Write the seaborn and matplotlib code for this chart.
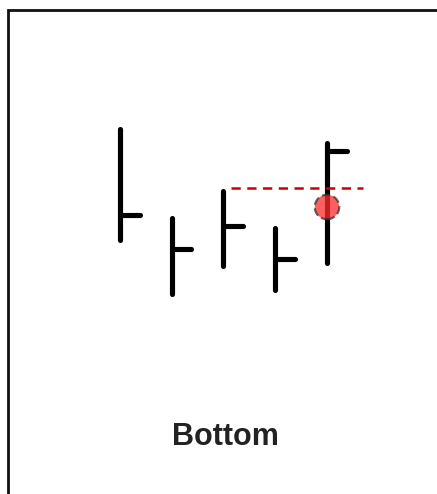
import matplotlib
matplotlib.use('Agg')
import matplotlib.pyplot as plt
import matplotlib.patches as patches
import seaborn as sns
import pandas as pd

# 数据
bars = [0, 1, 2, 3, 4]
highs = [19.1, 10.2, 12.9, 9.2, 17.7]
lows = [8.0, 2.6, 5.4, 3.0, 5.7]
closes = [10.5, 7.1, 9.4, 6.1, 16.9]
level_price = 13.2
level_span = [2.15, 4.7]
signal_bar = [4]
signal_price = [11.3]
label = 'Bottom'

sns.set_style('white')
plt.rcParams['font.family'] = ['Liberation Sans', 'DejaVu Sans']

fig = plt.figure(figsize=(4.37, 4.94), dpi=100)
ax = fig.add_axes([0, 0, 1, 1])
ax.set_xlim(-2.319, 6.126)
ax.set_ylim(-17.4, 32.0)
ax.axis('off')

# 外框
frame = patches.Rectangle((7.5 / 437, -0.1), 1.2, 1 - 9.5 / 494 + 0.1,
                          transform=fig.transFigure, fill=False,
                          lw=2.0, edgecolor='#111111')
fig.add_artist(frame)

# 高低线 + 收盘刻度
v = ax.vlines(bars, lows, highs, colors='black', lw=3.7)
v.set_capstyle('round')
tick_len = 0.38
h = ax.hlines(closes, bars, [b + tick_len for b in bars], colors='black', lw=3.7)
h.set_capstyle('round')

# 阻力线
ax.plot(level_span, [level_price, level_price], color='#cc0000', lw=1.8,
        dashes=(3.7, 2.6))

# 信号点
df = pd.DataFrame({'x': signal_bar, 'y': signal_price})
sns.scatterplot(data=df, x='x', y='y', ax=ax, s=310, color='#ff2a2a',
                alpha=0.75, edgecolor='#333333', linewidth=1.6,
                linestyle='--', zorder=5, legend=False)

fig.text(225.5 / 437, 1 - 445 / 494, label, ha='center', va='baseline',
         fontsize=22, fontweight='bold', color='#222222')

plt.savefig('out.png', dpi=100)
